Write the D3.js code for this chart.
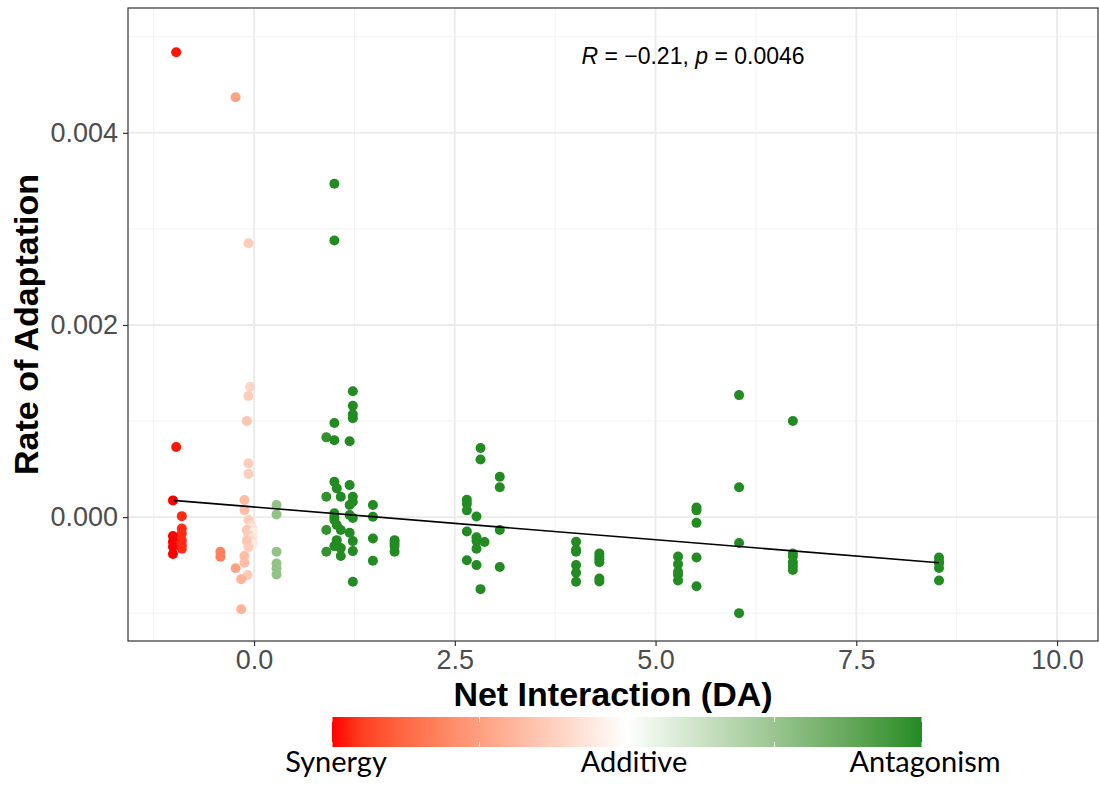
<!DOCTYPE html>
<html>
<head>
<meta charset="utf-8">
<script src="https://cdn.jsdelivr.net/npm/d3@7"></script>
<style>
  body { margin: 0; background: #fff; }
  svg { display: block; }
</style>
</head>
<body>
<svg id="chart" width="1099" height="785"></svg>
<script>
// net interaction (DA) per point
var netInteraction = [
  -0.97, -0.97, -1.01, -0.90, -0.90, -0.90, -1.01, -0.90, -1.01, -0.94, -1.01, -0.90, -1.01, -0.90,
  -0.42, -0.42, -0.23, -0.23,
  -0.05, -0.07, -0.07, -0.09, -0.07, -0.07, -0.12, -0.12,
  -0.07, -0.04, -0.02, -0.09, -0.01, -0.07, -0.02, -0.04, -0.01, -0.09, -0.07,
  -0.12, -0.12, -0.08, -0.16, -0.16,
  0.28, 0.28, 0.28, 0.28, 0.28, 0.28,
  1.00, 1.00, 1.23, 1.23, 1.23, 1.23, 1.00, 0.90, 1.00, 1.19,
  1.00, 1.19, 1.03, 0.90, 1.08, 1.23, 1.23, 1.19, 1.48, 1.48, 1.19, 1.23, 1.00, 1.00, 1.00,
  0.90, 1.03, 1.08, 1.19, 1.23, 1.48, 1.75, 1.75, 1.75, 1.75, 0.90, 1.03, 1.08, 1.00, 1.08,
  1.23, 1.48, 1.23,
  2.82, 2.82, 3.06, 3.06, 2.65, 2.65, 2.65, 2.77, 2.65, 3.06, 2.77, 2.77, 2.87, 2.77,
  2.65, 2.77, 3.06, 2.82,
  4.01, 4.01, 4.01, 4.01, 4.01, 4.01,
  4.30, 4.30, 4.30, 4.30, 4.30, 4.30,
  5.28, 5.28, 5.28, 5.28, 5.28,
  5.51, 5.51, 5.51, 5.51, 5.51,
  6.04, 6.04, 6.04, 6.04,
  6.71, 6.71, 6.71, 6.71, 6.71, 6.71,
  8.53, 8.53, 8.53, 8.53, 8.53
];
// rate of adaptation per point
var rateAdaptation = [
  0.00484, 0.00073, 0.000174, 0.00001, -0.000118, -0.00017, -0.000198, -0.00024, -0.000257, -0.000292, -0.000309, -0.000292, -0.000385, -0.00033,
  -0.000361, -0.000413, 0.00437, -0.000533,
  0.001357, 0.00126, 0.00285, 0.0010, 0.00056, 0.00045, 0.000177, 0.000073,
  -0.000031, -0.000083, -0.000115, -0.000135, -0.000156, -0.000188, -0.000219, -0.00025, -0.000281, -0.00025, -0.000313,
  -0.000406, -0.000476, -0.000604, -0.000646, -0.00096,
  0.000125, 0.000028, -0.000361, -0.000482, -0.000535, -0.000597,
  0.00347, 0.00288, 0.00131, 0.00116, 0.00107, 0.00103, 0.00098, 0.00083, 0.00080, 0.00079,
  0.000368, 0.000333, 0.000299, 0.000212, 0.000212, 0.000212, 0.00016, 0.000125, 0.000125, 0.000003, 0.000021, -0.00001, 0.0, -0.000031, 0.00004,
  -0.000135, -0.000083, -0.000135, -0.000163, -0.00025, -0.000222, -0.00024, -0.00027, -0.000302, -0.000361, -0.000361, -0.00024, -0.000323, -0.000302, -0.000406,
  -0.000354, -0.000455, -0.000674,
  0.00072, 0.00060, 0.00042, 0.00031, 0.00018, 0.00014, 0.00007, 0.000007, -0.00015, -0.000135, -0.00021, -0.00025, -0.00026, -0.00033,
  -0.00045, -0.00050, -0.00052, -0.00075,
  -0.000257, -0.00034, -0.000361, -0.0005, -0.00058, -0.000674,
  -0.00038, -0.00041, -0.00044, -0.00047, -0.00064, -0.00067,
  -0.00041, -0.00049, -0.00057, -0.0006, -0.00066,
  0.0001, 0.00007, -0.00006, -0.00042, -0.00072,
  0.00127, 0.00031, -0.00027, -0.0010,
  0.0010, -0.00038, -0.00041, -0.00047, -0.00051, -0.00055,
  -0.00042, -0.00046, -0.00048, -0.00053, -0.00066
];

// fitted regression line ends
var fitX = [-1.01, 8.53];
var fitY = [0.000174, -0.000476];

var xTicks = [0, 2.5, 5, 7.5, 10];
var xMinor = [-1.25, 1.25, 3.75, 6.25, 8.75];
var yTicks = [0, 0.002, 0.004];
var yMinor = [-0.001, 0.001, 0.003, 0.005];

var legendLabels = ["Synergy", "Additive", "Antagonism"];
var legendStops = [-1, -0.5, 0, 0.5, 1];

var svg = d3.select("#chart");
var pLeft = 128, pTop = 8, pRight = 1098, pBottom = 641;

var x = d3.scaleLinear().domain([-1.57, 10.51]).range([pLeft, pRight]);
var y = d3.scaleLinear().domain([-0.00129, 0.0053]).range([pBottom, pTop]);

var colorScale = d3.scaleSqrt()
  .domain([-1, 0, 1])
  .range(["#ff0000", "#ffffff", "#228b22"])
  .interpolate(d3.interpolateLab)
  .clamp(true);

var legendColor = d3.scaleLinear()
  .domain([-1, 0, 1])
  .range(["#ff0000", "#ffffff", "#228b22"])
  .interpolate(d3.interpolateLab);

// grid
var grid = svg.append("g");
grid.selectAll(".xminor").data(xMinor).enter().append("line")
  .attr("x1", d => x(d)).attr("x2", d => x(d))
  .attr("y1", pTop).attr("y2", pBottom)
  .attr("stroke", "#f2f2f2").attr("stroke-width", 1);
grid.selectAll(".yminor").data(yMinor).enter().append("line")
  .attr("y1", d => y(d)).attr("y2", d => y(d))
  .attr("x1", pLeft).attr("x2", pRight)
  .attr("stroke", "#f2f2f2").attr("stroke-width", 1);
grid.selectAll(".xmajor").data(xTicks).enter().append("line")
  .attr("x1", d => x(d)).attr("x2", d => x(d))
  .attr("y1", pTop).attr("y2", pBottom)
  .attr("stroke", "#ebebeb").attr("stroke-width", 1.8);
grid.selectAll(".ymajor").data(yTicks).enter().append("line")
  .attr("y1", d => y(d)).attr("y2", d => y(d))
  .attr("x1", pLeft).attr("x2", pRight)
  .attr("stroke", "#ebebeb").attr("stroke-width", 1.8);

// points
var points = netInteraction.map(function (d, i) {
  return { x: d, y: rateAdaptation[i] };
});

svg.append("g").selectAll("circle")
  .data(points)
  .enter()
  .append("circle")
  .attr("cx", d => x(d.x))
  .attr("cy", d => y(d.y))
  .attr("r", 5)
  .attr("fill", d => colorScale(d.x));

// regression line
svg.append("line")
  .attr("x1", x(fitX[0])).attr("y1", y(fitY[0]))
  .attr("x2", x(fitX[1])).attr("y2", y(fitY[1]))
  .attr("stroke", "#000").attr("stroke-width", 1.6);

// panel border
svg.append("rect")
  .attr("x", pLeft).attr("y", pTop)
  .attr("width", pRight - pLeft).attr("height", pBottom - pTop)
  .attr("fill", "none").attr("stroke", "#333").attr("stroke-width", 1.2);

// axes
var xAxis = svg.append("g")
  .attr("transform", "translate(0," + pBottom + ")")
  .call(d3.axisBottom(x).tickValues(xTicks).tickFormat(d3.format(".1f")).tickSize(5).tickPadding(4));
var yAxis = svg.append("g")
  .attr("transform", "translate(" + pLeft + ",0)")
  .call(d3.axisLeft(y).tickValues(yTicks).tickFormat(d3.format(".3f")).tickSize(5).tickPadding(5));

[xAxis, yAxis].forEach(function (a) {
  a.select(".domain").remove();
  a.selectAll(".tick line").attr("stroke", "#333").attr("stroke-width", 1.2);
  a.selectAll(".tick text")
    .attr("fill", "#4d4d4d")
    .style("font-family", "'Liberation Sans', Arial, sans-serif")
    .style("font-size", "27px");
});

// titles
svg.append("text")
  .attr("x", (pLeft + pRight) / 2).attr("y", 706)
  .attr("text-anchor", "middle")
  .style("font-family", "'Liberation Sans', Arial, sans-serif")
  .style("font-weight", "bold").style("font-size", "34px")
  .text("Net Interaction (DA)");

svg.append("text")
  .attr("transform", "translate(38," + ((pTop + pBottom) / 2) + ") rotate(-90)")
  .attr("text-anchor", "middle")
  .style("font-family", "'Liberation Sans', Arial, sans-serif")
  .style("font-weight", "bold").style("font-size", "34px")
  .text("Rate of Adaptation");

// annotation
var ann = svg.append("text")
  .attr("x", 693).attr("y", 64)
  .attr("text-anchor", "middle")
  .style("font-family", "'Liberation Sans', Arial, sans-serif")
  .style("font-size", "23px");
ann.append("tspan").style("font-style", "italic").text("R");
ann.append("tspan").text(" = \u22120.21, ");
ann.append("tspan").style("font-style", "italic").text("p");
ann.append("tspan").text(" = 0.0046");

// colour legend
var lx0 = 332, lx1 = 922, ly0 = 717, ly1 = 747;
var defs = svg.append("defs");
var grad = defs.append("linearGradient").attr("id", "lg");
d3.range(0, 21).forEach(function (i) {
  var t = -1 + i / 10;
  grad.append("stop").attr("offset", (i * 5) + "%").attr("stop-color", legendColor(t));
});
svg.append("rect")
  .attr("x", lx0).attr("y", ly0)
  .attr("width", lx1 - lx0).attr("height", ly1 - ly0)
  .attr("fill", "url(#lg)");

var lScale = d3.scaleLinear().domain([-1, 1]).range([lx0, lx1]);
legendStops.forEach(function (s) {
  svg.append("line")
    .attr("x1", lScale(s)).attr("x2", lScale(s))
    .attr("y1", ly0).attr("y2", ly0 + 5)
    .attr("stroke", "#fff").attr("stroke-width", 1);
  svg.append("line")
    .attr("x1", lScale(s)).attr("x2", lScale(s))
    .attr("y1", ly1 - 5).attr("y2", ly1)
    .attr("stroke", "#fff").attr("stroke-width", 1);
});

var labelX = [336, 634, 925];
svg.selectAll(".leglab").data(legendLabels).enter().append("text")
  .attr("x", (d, i) => labelX[i]).attr("y", 772)
  .attr("text-anchor", "middle")
  .style("font-family", "Lato, 'Open Sans', sans-serif")
  .style("font-size", "29px")
  .attr("fill", "#000")
  .text(d => d);
</script>
</body>
</html>
